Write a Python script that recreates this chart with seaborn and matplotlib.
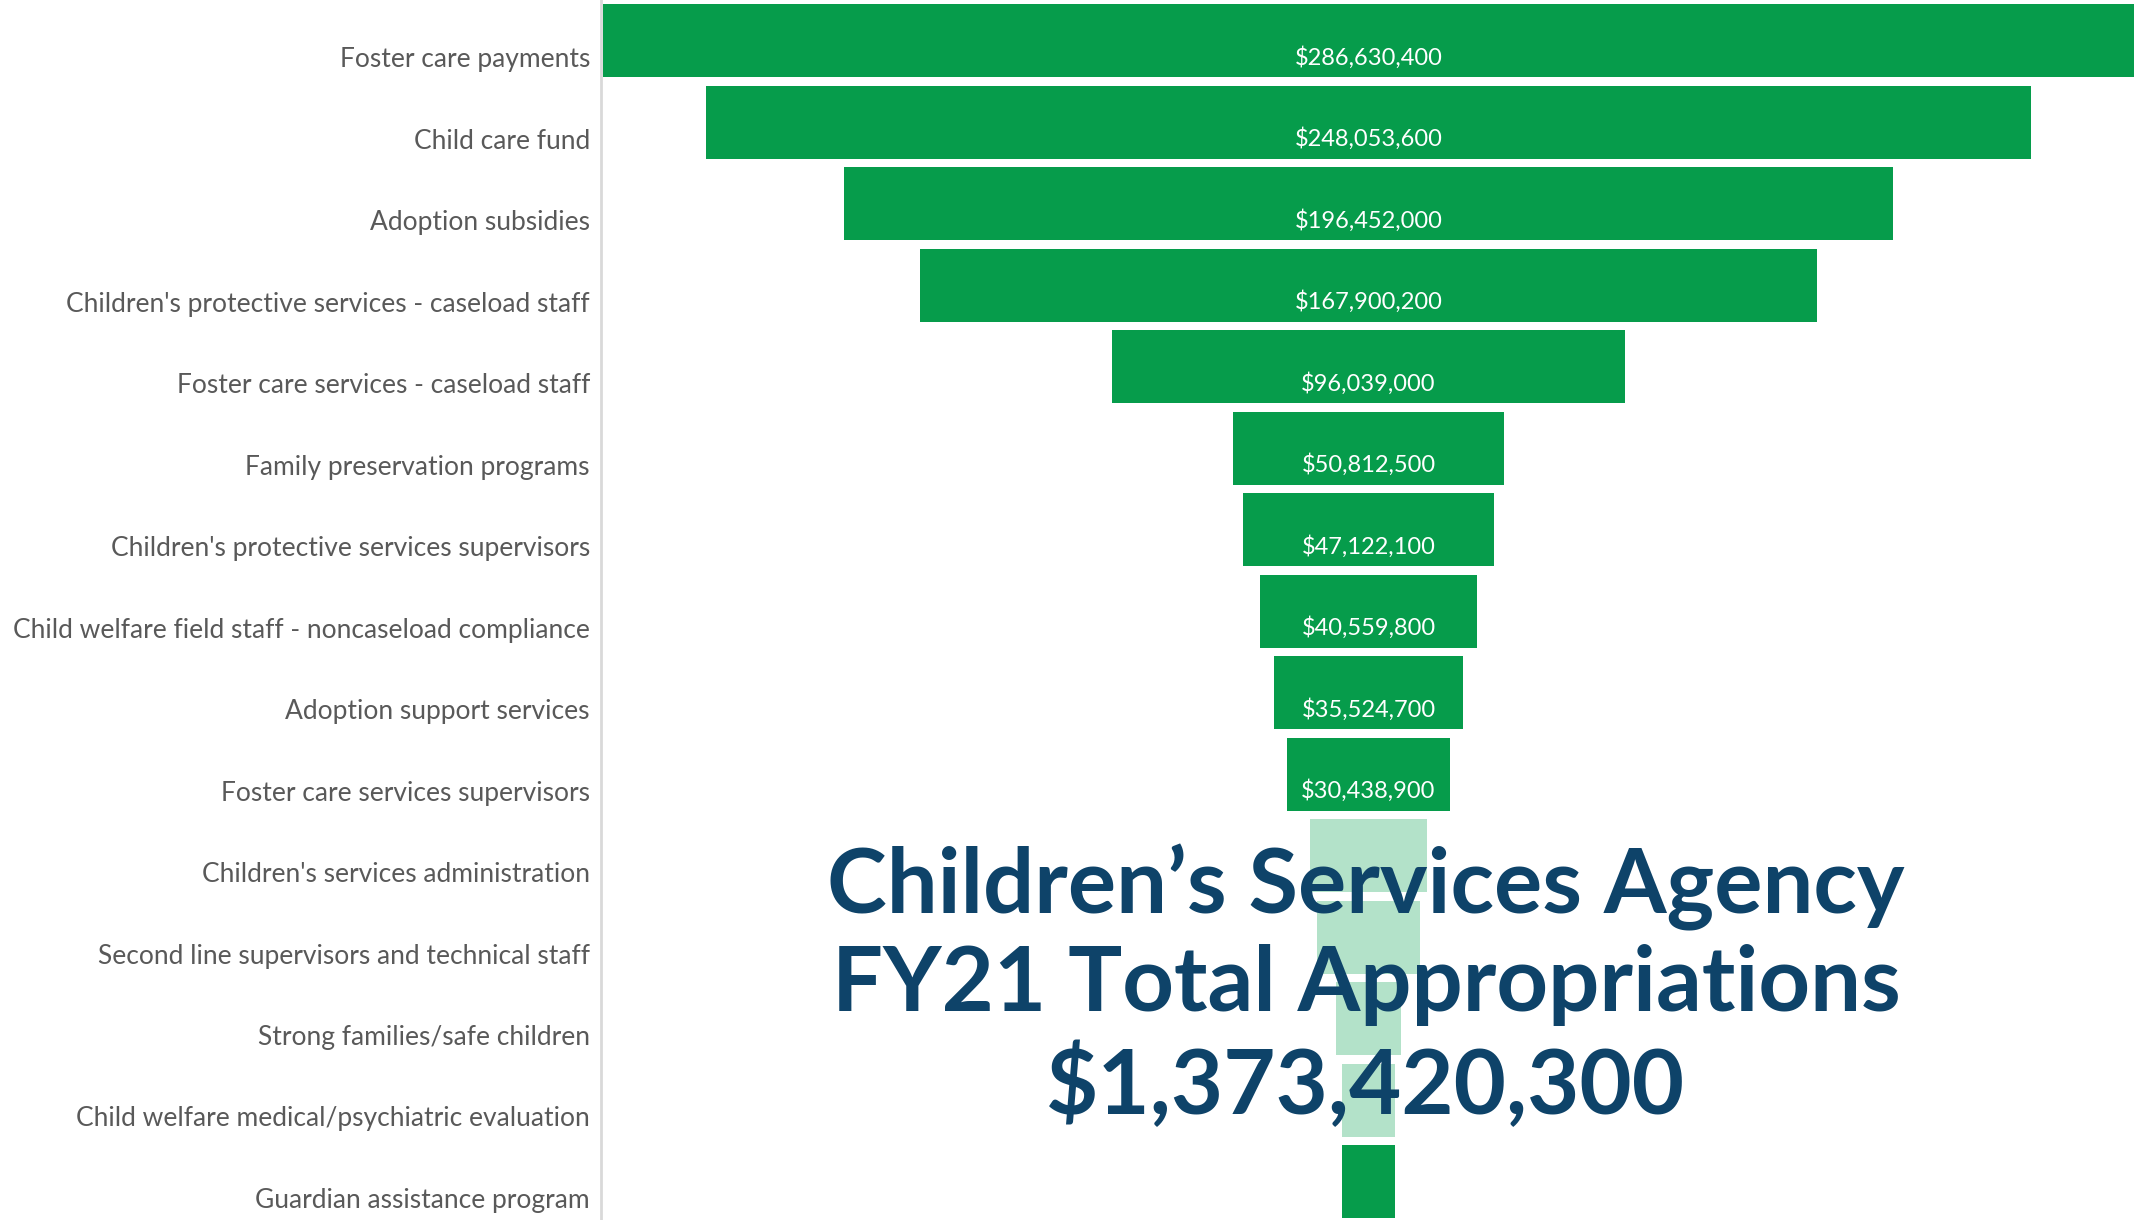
import matplotlib
matplotlib.use("Agg")
import matplotlib.pyplot as plt
import seaborn as sns
import numpy as np
import pandas as pd

# programs in funnel order (top to bottom)
programs = [
    "Foster care payments",
    "Child care fund",
    "Adoption subsidies",
    "Children's protective services - caseload staff",
    "Foster care services - caseload staff",
    "Family preservation programs",
    "Children's protective services supervisors",
    "Child welfare field staff - noncaseload compliance",
    "Adoption support services",
    "Foster care services supervisors",
    "Children's services administration",
    "Second line supervisors and technical staff",
    "Strong families/safe children",
    "Child welfare medical/psychiatric evaluation",
    "Guardian assistance program",
]
# appropriations in dollars; last five (labels hidden)
amounts = [
    286630400, 248053600, 196452000, 167900200, 96039000,
    50812500, 47122100, 40559800, 35524700, 30438900,
    21900000, 19200000, 12200000, 9900000, 9900000,
]
# which bars show their value label
show_label = [True] * 10 + [False] * 5
bar_colors = ["#069C4B"] * 10 + ["#B3E2C9"] * 4 + ["#069C4B"]

title_lines = [
    "Children\u2019s Services Agency",
    "FY21 Total Appropriations",
    "$1,373,420,300",
]

df = pd.DataFrame({"program": programs, "amount": amounts})
df["half"] = df["amount"] / 2
df["neg"] = -df["half"]

sns.set_theme(style="white")
plt.rcParams["font.family"] = ["Lato", "DejaVu Sans"]

fig = plt.figure(figsize=(21.36, 12.2), dpi=100)
ax = fig.add_axes([601 / 2136, 0, 1535 / 2136, 1])

palette = dict(zip(programs, bar_colors))
# funnel: each bar drawn as two halves mirrored around zero
for col in ["half", "neg"]:
    sns.barplot(data=df, x=col, y="program", hue="program", palette=palette,
                orient="h", width=0.9, legend=False, ax=ax, saturation=1,
                linewidth=0)

xmax = max(amounts) / 2 * 1.003
ax.set_xlim(-xmax, xmax)
ax.set_ylim(len(programs) - 0.53, -0.5)

# labels sit a bit below bar centres, like the source chart
offset = 0.2
ypos = np.arange(len(programs)) + offset
ax.set_yticks(ypos)
ax.set_yticklabels(programs, fontsize=19, color="#595959")
ax.tick_params(axis="y", length=0, pad=8)
ax.set_xticks([])
ax.set_xlabel("")
ax.set_ylabel("")

for s in ["top", "right", "bottom"]:
    ax.spines[s].set_visible(False)
ax.spines["left"].set_color("#D9D9D9")
ax.spines["left"].set_linewidth(2)

for i, (amt, show) in enumerate(zip(amounts, show_label)):
    if show:
        ax.text(0, ypos[i], f"${amt:,.0f}", ha="center", va="center",
                color="white", fontsize=17)

title_y = [887, 985, 1085]
for line, y in zip(title_lines, title_y):
    fig.text(1366 / 2136, 1 - y / 1220, line, ha="center", va="center",
             fontsize=65, fontweight="bold", color="#0E4369")

fig.savefig("out.png", dpi=100)
